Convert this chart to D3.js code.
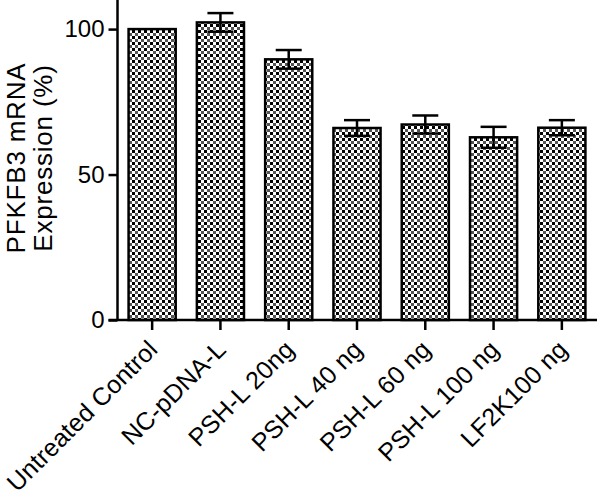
<!DOCTYPE html>
<html>
<head>
<meta charset="utf-8">
<script src="https://cdn.jsdelivr.net/npm/d3@7"></script>
<style>
    body { margin: 0; background: #fff; }
    text { font-family: "Liberation Sans", Arial, sans-serif; fill: #000; }
</style>
</head>
<body>
<div id="graph1"></div>
<script>
// chart data
var categories = ["Untreated Control", "NC-pDNA-L", "PSH-L 20ng", "PSH-L 40 ng",
    "PSH-L 60 ng", "PSH-L 100 ng", "LF2K100 ng"];
var means = [100, 102.3, 89.6, 66.0, 67.2, 62.8, 66.1];
var errors = [0, 3.2, 3.2, 2.7, 3.1, 3.6, 2.6];
var yTicks = [0, 50, 100];

var width = 600, height = 496;

var svg = d3.select("#graph1").append("svg")
    .attr("width", width)
    .attr("height", height);

// checker pattern fill for the bars
var pat = svg.append("defs").append("pattern")
    .attr("id", "checks")
    .attr("patternUnits", "userSpaceOnUse")
    .attr("width", 6).attr("height", 6);
pat.append("rect").attr("width", 6).attr("height", 6).attr("fill", "#fff");
pat.append("rect").attr("x", 0).attr("y", 0).attr("width", 3).attr("height", 3).attr("fill", "#000");
pat.append("rect").attr("x", 3).attr("y", 3).attr("width", 3).attr("height", 3).attr("fill", "#555");

var axisX = 117.5, baseY = 320;

var x = d3.scaleBand()
    .domain(categories)
    .range([118, 596])
    .paddingInner(0.31)
    .paddingOuter(0.155);

var y = d3.scaleLinear()
    .domain([0, 110])
    .range([baseY, 0]);

var data = categories.map(function (c, i) {
    return {name: c, mean: means[i], err: errors[i]};
});

// bars
svg.selectAll("rect.bar")
    .data(data)
    .enter().append("rect")
    .attr("class", "bar")
    .attr("x", function (d) { return x(d.name); })
    .attr("y", function (d) { return y(d.mean); })
    .attr("width", x.bandwidth())
    .attr("height", function (d) { return y(0) - y(d.mean); })
    .attr("fill", "url(#checks)")
    .attr("stroke", "#000")
    .attr("stroke-width", 2.5);

// error bars
var eb = svg.selectAll("g.err")
    .data(data.filter(function (d) { return d.err > 0; }))
    .enter().append("g")
    .attr("class", "err")
    .attr("stroke", "#000")
    .attr("stroke-width", 2.5);

eb.append("line")
    .attr("x1", function (d) { return x(d.name) + x.bandwidth() / 2; })
    .attr("x2", function (d) { return x(d.name) + x.bandwidth() / 2; })
    .attr("y1", function (d) { return y(d.mean - d.err); })
    .attr("y2", function (d) { return y(d.mean + d.err); });

[1, -1].forEach(function (s) {
    eb.append("line")
        .attr("x1", function (d) { return x(d.name) + x.bandwidth() / 2 - 13; })
        .attr("x2", function (d) { return x(d.name) + x.bandwidth() / 2 + 13; })
        .attr("y1", function (d) { return y(d.mean + s * d.err); })
        .attr("y2", function (d) { return y(d.mean + s * d.err); });
});

// y axis
var yAxis = svg.append("g")
    .attr("transform", "translate(" + axisX + ",0)")
    .call(d3.axisLeft(y).tickValues(yTicks).tickSize(9).tickPadding(4));
yAxis.select(".domain").attr("d", "M0," + baseY + "V0").attr("stroke-width", 2.5);
yAxis.selectAll(".tick line").attr("stroke-width", 2.5);
yAxis.selectAll(".tick text")
    .style("font-size", "24px")
    .attr("font-family", null);

// x axis
var xAxis = svg.append("g")
    .attr("transform", "translate(0," + baseY + ")")
    .call(d3.axisBottom(x).tickSize(10).tickSizeOuter(0));
xAxis.select(".domain").attr("d", "M" + (axisX - 9) + ",0H597").attr("stroke-width", 2.5);
xAxis.selectAll(".tick line").attr("stroke-width", 2.5);
xAxis.selectAll(".tick text")
    .style("font-size", "25px")
    .style("letter-spacing", "0.2px")
    .attr("font-family", null)
    .attr("text-anchor", "end")
    .attr("dy", null)
    .attr("y", 0)
    .attr("transform", "translate(7,31) rotate(-45)");

// y title
var title = svg.append("text")
    .attr("transform", "translate(25,158) rotate(-90)")
    .attr("text-anchor", "middle")
    .style("font-size", "26px")
    .style("letter-spacing", "0.8px");
title.append("tspan").attr("x", 0).attr("dy", 0).text("PFKFB3 mRNA");
title.append("tspan").attr("x", 0).attr("dy", 27).text("Expression (%)");
</script>
</body>
</html>
